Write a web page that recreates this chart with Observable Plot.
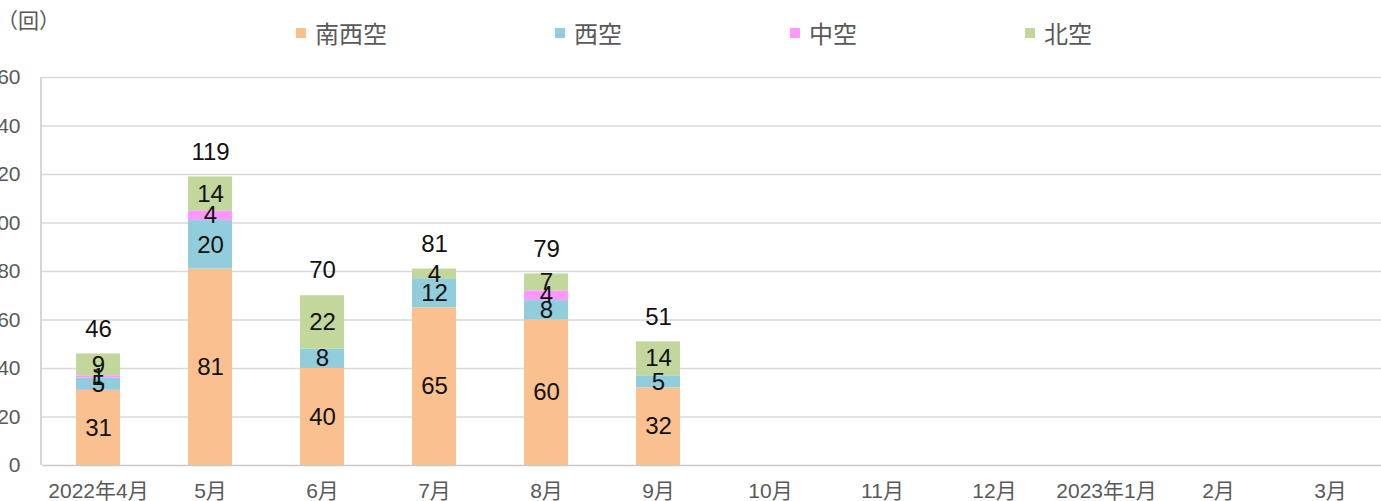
<!DOCTYPE html>
<html><head><meta charset="utf-8">
<script src="https://cdn.jsdelivr.net/npm/d3@7"></script>
<script src="https://cdn.jsdelivr.net/npm/@observablehq/plot@0.6"></script>
<style>
body{margin:0;background:#fff;font-family:"Liberation Sans","Noto Sans CJK JP",sans-serif;}
#wrap{position:relative;width:1381px;height:501px;overflow:hidden;}
#unit{position:absolute;left:-3px;top:4px;font-size:21px;color:#595959;font-family:"Noto Sans CJK JP",sans-serif;}
.leg{position:absolute;top:15px;display:flex;align-items:center;font-size:24px;color:#595959;font-family:"Noto Sans CJK JP",sans-serif;}
.leg span.sw{display:inline-block;width:10px;height:10px;margin-right:9px;}
</style></head>
<body><div id="wrap"><div id="unit">（回）</div></div>
<script>
const months = ["2022年4月","5月","6月","7月","8月","9月","10月","11月","12月","2023年1月","2月","3月"];
const seriesNames = ["南西空","西空","中空","北空"];
const colors = ["#FAC090","#92CDDC","#FF99FF","#C3D69B"];
const nanseiku = [31,81,40,65,60,32];
const seiku = [5,20,8,12,8,5];
const chuku = [1,4,0,0,4,0];
const hokuku = [9,14,22,4,7,14];
const totals = [46,119,70,81,79,51];
const yTicks = [0,20,40,60,80,100,120,140,160];
const legendX = [296,555,790,1025];

const seriesValues = [nanseiku, seiku, chuku, hokuku];
const data = [];
seriesNames.forEach((s, si) => {
  seriesValues[si].forEach((v, mi) => data.push({month: months[mi], series: s, value: v}));
});
const totalData = totals.map((t, i) => ({month: months[i], total: t}));

const plot = Plot.plot({
  width: 1381, height: 501,
  marginTop: 77, marginBottom: 36, marginLeft: 42, marginRight: 0,
  style: {fontFamily: '"Liberation Sans","Noto Sans CJK JP",sans-serif', background: "transparent"},
  x: {domain: months, range: [42, 1386], paddingInner: 0.607, paddingOuter: 0.3035, label: null},
  y: {domain: [0, 160], label: null},
  color: {domain: seriesNames, range: colors},
  marks: [
    Plot.gridY(yTicks.filter(d => d > 0), {stroke: "#d9d9d9", strokeOpacity: 1, strokeWidth: 1.3}),
    Plot.barY(data, {x: "month", y: "value", fill: "series", order: seriesNames}),
    Plot.ruleY([0], {stroke: "#c8c8c8", strokeWidth: 1.5}),
    Plot.axisY({ticks: yTicks, tickSize: 0, tickPadding: 22, fontSize: 21, fill: "#595959", label: null}),
    Plot.axisX({tickSize: 0, tickPadding: 18, fontSize: 21, fill: "#595959", label: null}),
    Plot.text(data, Plot.stackY({x: "month", y: "value", z: "series", order: seriesNames, text: d => d.value > 0 ? String(d.value) : "", fontSize: 24, fill: "#111"})),
    Plot.text(totalData, {x: "month", y: "total", text: d => String(d.total), dy: -25, fontSize: 24, fill: "#111"})
  ]
});
const wrap = document.getElementById("wrap");
wrap.appendChild(plot);
// left axis line via the x scale's range start
const xr = plot.scale("x").range;
const yr = plot.scale("y").range;
d3.select(plot).append("line")
  .attr("x1", xr[0] - 1).attr("x2", xr[0] - 1)
  .attr("y1", yr[0]).attr("y2", yr[1])
  .attr("stroke", "#c8c8c8").attr("stroke-width", 1.5);
plot.style.position = "absolute"; plot.style.left = "0"; plot.style.top = "0";
document.getElementById("unit").style.zIndex = 2;
seriesNames.forEach((s, i) => {
  const d = document.createElement("div");
  d.className = "leg";
  d.style.left = legendX[i] + "px";
  d.innerHTML = `<span class="sw" style="background:${colors[i]}"></span>${s}`;
  wrap.appendChild(d);
});
</script></body></html>
